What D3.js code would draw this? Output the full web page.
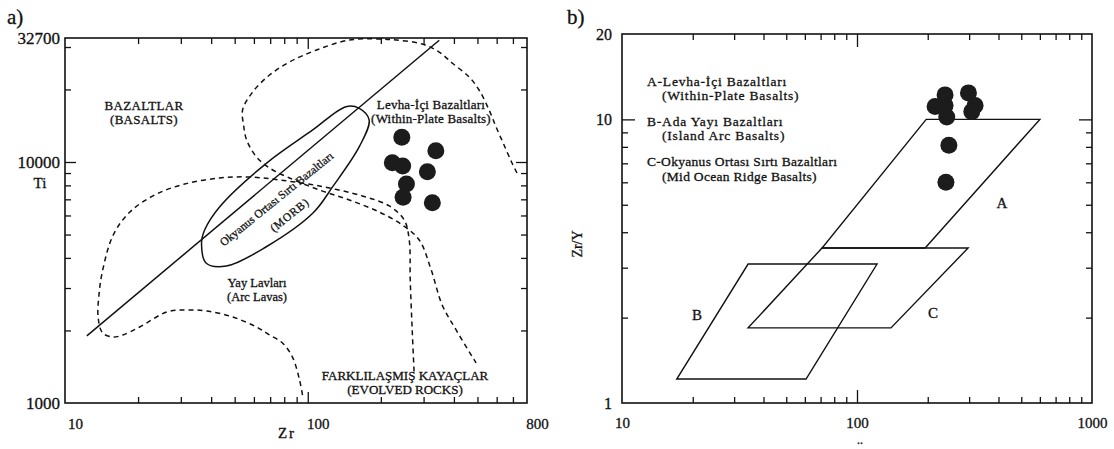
<!DOCTYPE html>
<html><head><meta charset="utf-8">
<script src="https://cdn.jsdelivr.net/npm/d3@7"></script>
<style>
html,body{margin:0;padding:0;background:#fff;}
svg{display:block;}
text{font-family:"Liberation Serif","Times New Roman",serif;fill:#111;stroke:#111;stroke-width:0.3px;}
</style></head><body>
<svg id="chart" width="1114" height="449"></svg>
<script>
// ---- (a) Ti vs Zr ----
const sampleZr = [244, 337, 223, 246, 311, 255, 247, 326];
const sampleTi = [12660, 11140, 9935, 9620, 9120, 8105, 7140, 6780];

// solid basalt / evolved-rock divide
const basaltDivide = [[12.3, 1900], [348, 32000]];
// MORB field (closed solid outline)
const morbField = [[36.5,4600],[38.2,3800],[46.2,3700],[67.5,4450],[104.8,6125],[126.7,7900],
  [163,11575],[179,14940],[163,16700],[143.8,16965],[104.8,13580],[67.5,9877],[43.4,6525],[37.6,5222]];
// arc lava field (dashed)
const arcLavaBoundary = [[95.1,1079],[92.5,1246],[86.5,1551],[78.7,1774],[69.6,1915],[61.5,2067],
  [49.0,2275],[38.3,2409],[31.7,2432],[26.3,2386],[20.3,2067],[17.3,1915],[15.8,1878],[14.3,1951],
  [13.7,2253],[13.8,2806],[14.3,3564],[15.8,4980],[18.5,6201],[23.4,7297],[31.1,8103],[43.4,8583],
  [57.6,8667],[76.5,8421],[111.7,7950],[167.8,7227],[216.7,6569],[249.7,5744],[261.8,4746],
  [264.3,3238],[269.3,2009],[274.5,1307]];
// within-plate field (dashed)
const withinPlateBoundary = [[727.6,9001],[693.9,9905],[643.5,11765],[596.5,13975],[558.3,16440],
  [507.7,19900],[461.8,22530],[393.3,25750],[347.8,28600],[296.1,30870],[231.5,32070],[197.1,32400],
  [148.4,32070],[108.6,29150],[84.1,25990],[69.6,22960],[59.3,19520],[53.9,16440],[54.4,14240],
  [56.0,12340],[61.5,10490],[69.6,9443],[84.1,8583],[111.7,7651],[148.4,6956],[197.1,6201],
  [245.0,5479],[287.9,4746],[322.5,3564],[357.8,2551],[408.5,2009],[493.6,1466]];

const aXLabels = [10, 100, 800];
const aXMinor = [20,30,40,50,60,70,80,90,200,300,400,500,600,700];
const aXMajor = [100];
const aYLabels = [1000, 10000, 32700];
const aYMinor = [2000,3000,4000,5000,6000,7000,8000,9000,20000,30000];
const aYMajor = [10000];

// ---- (b) Zr/Y vs Zr ----
const sampleZrB = [237, 215, 237, 241, 298, 318, 308, 246, 239];
const sampleZrY = [12.2, 11.1, 11.2, 10.2, 12.4, 11.2, 10.65, 8.1, 6.0];

const fieldA = [[197,10],[600,10],[195,3.52],[71,3.52]];
const fieldB = [[34.4,3.09],[121.7,3.09],[60.7,1.215],[17.1,1.215]];
const fieldC = [[71,3.52],[297,3.52],[139.5,1.84],[34.4,1.84]];

const bXLabels = [10, 100, 1000];
const bXMinor = [20,30,40,50,60,70,80,90,200,300,400,500,600,700,800,900];
const bXMajor = [100];
const bYLabels = [1, 10, 20];
const bYMinor = [2,3,4,5,6,7,8,9];
const bYMajor = [10];

const svg = d3.select("#chart");
svg.append("rect").attr("width",1114).attr("height",449).attr("fill","#fff");

const INK = "#111";

// box frame with inward ticks on all four sides plus labelled left/bottom ticks
function frame(g, x, y, o) {
  const [x0, x1] = x.range(), [y0, y1] = y.range();   // y0 bottom, y1 top
  const clean = s => s.select(".domain").remove();
  const axes = [
    [d3.axisBottom, `translate(0,${y0})`, x, o.xMinor, o.xMajor],
    [d3.axisTop, `translate(0,${y1})`, x, o.xMinor, o.xMajor],
    [d3.axisLeft, `translate(${x0},0)`, y, o.yMinor, o.yMajor],
    [d3.axisRight, `translate(${x1},0)`, y, o.yMinor, o.yMajor]
  ];
  axes.forEach(([fn, tr, sc, minor, major]) => {
    g.append("g").attr("transform", tr)
      .call(fn(sc).tickValues(minor).tickSize(-o.minorLen).tickSizeOuter(0).tickFormat(""))
      .call(clean);
    g.append("g").attr("transform", tr)
      .call(fn(sc).tickValues(major).tickSize(-o.majorLen).tickSizeOuter(0).tickFormat(""))
      .call(clean);
  });
  g.selectAll(".tick line").attr("stroke", INK).attr("stroke-width", 1.3);

  g.append("g").attr("transform", `translate(0,${y0})`)
    .call(d3.axisBottom(x).tickValues(o.xLabels).tickSize(0).tickPadding(o.xPad)
      .tickFormat(d3.format("d")))
    .call(clean)
    .selectAll("text").attr("font-size", o.xFont).attr("dx", o.xDx)
    .attr("font-family", '"Liberation Serif",serif').attr("fill", INK);
  g.append("g").attr("transform", `translate(${x0},0)`)
    .call(d3.axisLeft(y).tickValues(o.yLabels).tickSize(0).tickPadding(o.yPad)
      .tickFormat(d3.format("d")))
    .call(clean)
    .selectAll("text").attr("font-size", o.yFont)
    .attr("font-family", '"Liberation Serif",serif').attr("fill", INK);

  g.append("rect").attr("x", x0).attr("y", y1).attr("width", x1 - x0).attr("height", y0 - y1)
    .attr("fill", "none").attr("stroke", INK).attr("stroke-width", 1.6);
}

// multi-line annotation text
function label(g, x, y, lines, size, opts = {}) {
  const t = g.append("text").attr("x", x).attr("y", y).attr("font-size", size)
    .attr("text-anchor", opts.anchor || "middle");
  if (opts.rotate) t.attr("transform", `rotate(${opts.rotate},${x},${y})`);
  if (opts.spacing) t.attr("letter-spacing", opts.spacing);
  lines.forEach((s, i) => t.append("tspan").attr("x", x).attr("dy", i ? size * 1.1 : 0).text(s));
  return t;
}

// ================= panel a =================
const xA = d3.scaleLog().domain([10, 800]).range([65, 527]);
const yA = d3.scaleLog().domain([1000, 32700]).range([403, 38]);
const gA = svg.append("g");

const lineA = d3.line().x(d => xA(d[0])).y(d => yA(d[1]));

gA.append("path").datum(arcLavaBoundary)
  .attr("d", lineA.curve(d3.curveCatmullRom.alpha(0.5)))
  .attr("fill", "none").attr("stroke", INK).attr("stroke-width", 1.5).attr("stroke-dasharray", "5,4");
gA.append("path").datum(withinPlateBoundary)
  .attr("d", lineA.curve(d3.curveCatmullRom.alpha(0.5)))
  .attr("fill", "none").attr("stroke", INK).attr("stroke-width", 1.5).attr("stroke-dasharray", "5,4");
gA.append("path").datum(morbField)
  .attr("d", lineA.curve(d3.curveCatmullRomClosed.alpha(0.5)))
  .attr("fill", "none").attr("stroke", INK).attr("stroke-width", 1.5);
gA.append("path").datum(basaltDivide)
  .attr("d", lineA.curve(d3.curveLinear))
  .attr("fill", "none").attr("stroke", INK).attr("stroke-width", 1.5);

gA.selectAll("circle.s").data(sampleZr.map((z, i) => [z, sampleTi[i]])).join("circle")
  .attr("cx", d => xA(d[0])).attr("cy", d => yA(d[1])).attr("r", 8.5).attr("fill", "#1c1c1c");

frame(gA, xA, yA, {
  xMinor: aXMinor, xMajor: aXMajor, yMinor: aYMinor, yMajor: aYMajor,
  xLabels: aXLabels, yLabels: aYLabels, minorLen: 6, majorLen: 11,
  xPad: 15, xDx: 10, xFont: 15, yPad: 5, yFont: 17
});

label(gA, 144, 110, ["BAZALTLAR", "(BASALTS)"], 13, { spacing: 0.3 });
label(gA, 431, 109, ["Levha-İçi Bazaltları", "(Within-Plate Basalts)"], 13, { spacing: 0.2 });
label(gA, 257, 287, ["Yay Lavları", "(Arc Lavas)"], 12.5);
label(gA, 405, 380, ["FARKLILAŞMIŞ KAYAÇLAR", "(EVOLVED ROCKS)"], 13);
label(gA, 279, 202, ["Okyanus Ortası Sırtı Bazaltları"], 11.5, { rotate: -39 });
label(gA, 292, 218, ["(MORB)"], 11.5, { rotate: -39, spacing: 0.8 });

gA.append("text").attr("x", 40).attr("y", 188).attr("text-anchor", "middle")
  .attr("font-size", 15).text("Ti");
gA.append("text").attr("x", 287).attr("y", 438).attr("text-anchor", "middle")
  .attr("font-size", 15).attr("letter-spacing", 2).text("Zr");
svg.append("text").attr("x", 7).attr("y", 24).attr("font-size", 21)
  .attr("font-family", '"Liberation Sans",Arial,sans-serif').text("a)");

// ================= panel b =================
const xB = d3.scaleLog().domain([10, 1000]).range([622, 1092]);
const yB = d3.scaleLog().domain([1, 20]).range([403, 34]);
const gB = svg.append("g");
const lineB = d3.line().x(d => xB(d[0])).y(d => yB(d[1])).curve(d3.curveLinearClosed);

[fieldA, fieldB, fieldC].forEach(f => {
  gB.append("path").datum(f).attr("d", lineB)
    .attr("fill", "none").attr("stroke", INK).attr("stroke-width", 1.4).attr("stroke-linejoin", "miter");
});

gB.selectAll("circle.s").data(sampleZrB.map((z, i) => [z, sampleZrY[i]])).join("circle")
  .attr("cx", d => xB(d[0])).attr("cy", d => yB(d[1])).attr("r", 8.5).attr("fill", "#1c1c1c");

frame(gB, xB, yB, {
  xMinor: bXMinor, xMajor: bXMajor, yMinor: bYMinor, yMajor: bYMajor,
  xLabels: bXLabels, yLabels: bYLabels, minorLen: 6, majorLen: 13,
  xPad: 14, xDx: 0, xFont: 15, yPad: 10, yFont: 16
});

const legendOpts = { anchor: "start", spacing: 0.8 };
label(gB, 647, 86, ["A-Levha-İçi Bazaltları"], 13.5, legendOpts);
label(gB, 662, 100, ["(Within-Plate Basalts)"], 13.5, legendOpts);
label(gB, 647, 126, ["B-Ada Yayı Bazaltları"], 13.5, legendOpts);
label(gB, 662, 140, ["(Island Arc Basalts)"], 13.5, legendOpts);
label(gB, 647, 166, ["C-Okyanus Ortası Sırtı Bazaltları"], 13.5, { anchor: "start", spacing: 0.3 });
label(gB, 662, 181, ["(Mid Ocean Ridge Basalts)"], 13.5, { anchor: "start", spacing: 0.3 });

label(gB, 1002, 208, ["A"], 15);
label(gB, 697, 320, ["B"], 15);
label(gB, 933, 318, ["C"], 15);

gB.append("text").attr("transform", "translate(582,244) rotate(-90)").attr("text-anchor", "middle")
  .attr("font-size", 14).text("Zr/Y");
gB.append("text").attr("x", 860).attr("y", 444).attr("text-anchor", "middle")
  .attr("font-size", 12).text("..");
svg.append("text").attr("x", 567).attr("y", 24).attr("font-size", 21)
  .attr("font-family", '"Liberation Sans",Arial,sans-serif').text("b)");
</script>
</body></html>
